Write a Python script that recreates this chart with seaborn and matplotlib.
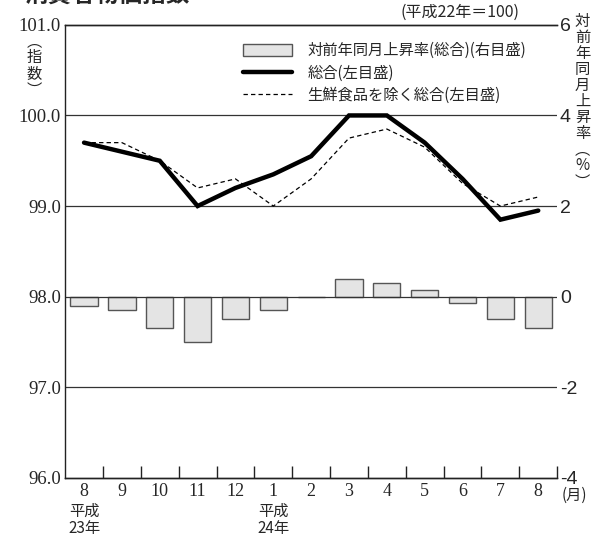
import numpy as np
import pandas as pd
import matplotlib
matplotlib.use("Agg")
import matplotlib.pyplot as plt
import seaborn as sns
from matplotlib.patches import Patch
from matplotlib.lines import Line2D

# STYLE
sns.set_theme(style="white")
plt.rcParams["font.family"] = ["Liberation Serif", "Noto Sans CJK JP"]
JP = ["Noto Sans CJK JP", "DejaVu Sans"]

# DATA
periods = ["2011-08", "2011-09", "2011-10", "2011-11", "2011-12", "2012-01",
           "2012-02", "2012-03", "2012-04", "2012-05", "2012-06", "2012-07", "2012-08"]
month_labels = ["8", "9", "10", "11", "12", "1", "2", "3", "4", "5", "6", "7", "8"]
yoy_rate = [-0.2, -0.3, -0.7, -1.0, -0.5, -0.3, 0.0, 0.4, 0.3, 0.15, -0.15, -0.5, -0.7]
cpi_total = [99.7, 99.6, 99.5, 99.0, 99.2, 99.35, 99.55, 100.0, 100.0, 99.7, 99.3, 98.85, 98.95]
cpi_core = [99.7, 99.7, 99.5, 99.2, 99.3, 99.0, 99.3, 99.75, 99.85, 99.65, 99.25, 99.0, 99.1]
left_ticks = [96.0, 97.0, 98.0, 99.0, 100.0, 101.0]
right_ticks = [-4, -2, 0, 2, 4, 6]

df = pd.DataFrame({
    "period": periods,
    "pos": np.arange(len(periods)),
    "yoy": yoy_rate,
    "total": cpi_total,
    "core": cpi_core,
})

fig = plt.figure(figsize=(6.03, 5.40), dpi=100)
ax = fig.add_axes([0.108, 0.115, 0.816, 0.839])
ax2 = ax.twinx()

# bars (right scale)
sns.barplot(data=df, x="period", y="yoy", order=periods, ax=ax2,
            color="#e4e4e4", edgecolor="#555555", linewidth=1.0,
            width=0.72, saturation=1)

# lines (left scale)
sns.lineplot(data=df, x="pos", y="total", ax=ax, color="black",
             linewidth=3.2, solid_joinstyle="miter")
sns.lineplot(data=df, x="pos", y="core", ax=ax, color="black",
             linewidth=0.9, linestyle=(0, (3.5, 2.5)))

ax.set_zorder(ax2.get_zorder() + 1)
ax.patch.set_visible(False)

ax.set_xlim(-0.5, len(periods) - 0.5)
ax.set_ylim(left_ticks[0], left_ticks[-1])
ax2.set_ylim(right_ticks[0], right_ticks[-1])

# gridlines
for v in left_ticks[1:-1]:
    ax.axhline(v, color="#333333", linewidth=0.9, zorder=0)

ax.set_yticks(left_ticks)
ax.set_yticklabels([f"{v:.1f}" for v in left_ticks], fontsize=13.5)
ax.tick_params(axis="y", length=0, pad=3)
ax2.set_yticks(right_ticks)
ax2.set_yticklabels([str(v) for v in right_ticks], fontsize=14,
                    family=["Liberation Sans"])
ax2.tick_params(axis="y", length=0, pad=2)

ax.set_xticks(np.arange(len(periods)))
ax.set_xticklabels(month_labels, fontsize=13)
ax.set_xticks(np.arange(len(periods)) + 0.5, minor=True)
ax.tick_params(axis="x", which="major", length=0, pad=4, labelbottom=True)
ax.tick_params(axis="x", which="minor", bottom=True, direction="in",
               length=9, width=1.0, color="#222222")
ax2.tick_params(axis="x", which="both", length=0, labelbottom=False)

ax.set_xlabel("")
ax.set_ylabel("")
ax2.set_xlabel("")
ax2.set_ylabel("")

for a in (ax, ax2):
    a.spines["right"].set_visible(False)
    for s in ("left", "bottom", "top"):
        a.spines[s].set_color("#222222")
        a.spines[s].set_linewidth(1.0)
ax2.spines["left"].set_visible(False)

# year labels
ax.text(0, -0.055, "平成\n23年", transform=ax.get_xaxis_transform(),
        ha="center", va="top", fontsize=11, linespacing=1.0, family=JP)
ax.text(5, -0.055, "平成\n24年", transform=ax.get_xaxis_transform(),
        ha="center", va="top", fontsize=11, linespacing=1.0, family=JP)
ax.text(1.01, -0.038, "(月)", transform=ax.transAxes, ha="left",
        va="center", fontsize=11, family=JP)

# axis titles (vertical)
fig.text(0.057, 0.878, "︵\n指\n数\n︶", ha="center", va="center",
         fontsize=11, linespacing=0.95, family=JP)
fig.text(0.966, 0.812, "対\n前\n年\n同\n月\n上\n昇\n率\n︵\n%\n︶",
         ha="center", va="center", fontsize=11, linespacing=0.93, family=JP)
fig.text(0.862, 0.978, "(平成22年＝100)", ha="right", va="center",
         fontsize=11.5, family=JP)
fig.text(0.04, 0.987, "消費者物価指数", ha="left", va="bottom",
         fontsize=17, fontweight="bold", family=JP)

# legend
handles = [
    Patch(facecolor="#e4e4e4", edgecolor="#555555", linewidth=1.0),
    Line2D([], [], color="black", linewidth=3.2),
    Line2D([], [], color="black", linewidth=0.9, linestyle=(0, (3.5, 2.5))),
]
labels = ["対前年同月上昇率(総合)(右目盛)", "総合(左目盛)", "生鮮食品を除く総合(左目盛)"]
ax.legend(handles, labels, loc="upper left", bbox_to_anchor=(0.35, 0.975),
          frameon=False, prop={"family": JP, "size": 11}, handlelength=3.2,
          handleheight=0.9, labelspacing=0.35, handletextpad=1.0,
          borderaxespad=0)

fig.savefig("out.png", dpi=100)
